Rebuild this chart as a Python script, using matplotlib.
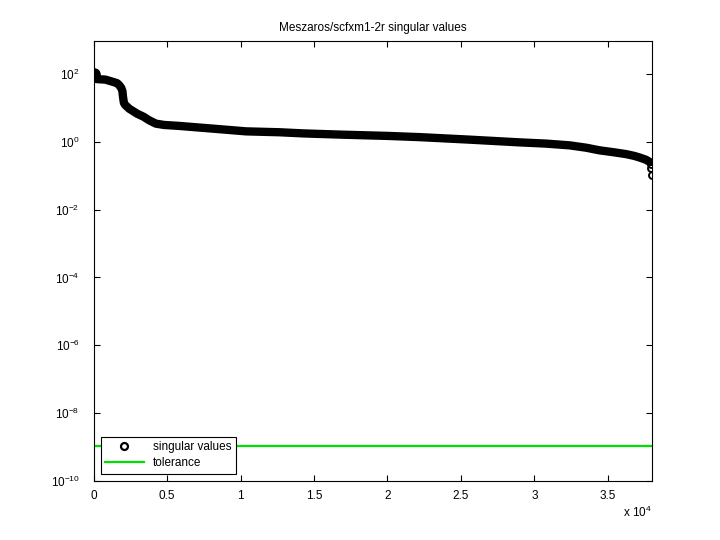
import numpy as np
import matplotlib
matplotlib.use("Agg")
import matplotlib.pyplot as plt

# singular values (index, value)
sv_index = [1, 60, 300, 800, 1260, 1600, 1740, 1880, 1960, 2000, 2060,
            2150, 2420, 2960, 3400, 3780, 4240, 4800, 5820, 8080, 10380,
            12640, 14300, 17000, 20000, 22170, 25580, 28980, 30800, 32390,
            33540, 34430, 35400, 36250, 36800, 37160, 37600, 37840]
sv_value = [103, 74, 72, 70, 61, 55, 48, 40, 32, 22, 14.5,
            12.5, 9.7, 6.9, 5.6, 4.4, 3.5, 3.2, 3.0, 2.5, 2.07,
            1.95, 1.8, 1.65, 1.52, 1.4, 1.18, 0.98, 0.90, 0.80,
            0.68, 0.57, 0.50, 0.44, 0.39, 0.35, 0.30, 0.26]
# last few values that show as separate circles
tail_index = [37930, 37965, 37980]
tail_value = [0.22, 0.17, 0.11]

n_values = 37980
tolerance = 1.05e-9

plt.rcParams['font.family'] = ['Liberation Sans', 'DejaVu Sans']
plt.rcParams['mathtext.fontset'] = 'custom'
plt.rcParams['mathtext.rm'] = 'Liberation Sans'

fig = plt.figure(figsize=(7.2, 5.4), dpi=100)
ax = fig.add_axes([0.13, 0.11, 0.775, 0.815])

# dense markers in the original merge into a thick band
ax.plot(sv_index, sv_value, '-', color='black', lw=6,
        solid_capstyle='round', solid_joinstyle='round')
ax.plot(sv_index[:1], sv_value[:1], 'o', color='black', ms=8)
ax.plot(tail_index, tail_value, 'o', mfc='none', mec='black', ms=5, mew=1.4)
ax.plot([], [], 'o', mfc='none', mec='black', ms=5, mew=1.6,
        label='singular values')
ax.plot([0, n_values], [tolerance, tolerance], color='#00e000', lw=1.6,
        label='tolerance')

ax.set_yscale('log')
ax.set_xlim(0, n_values)
ax.set_ylim(1e-10, 1e3)

yt = [1e-10, 1e-8, 1e-6, 1e-4, 1e-2, 1e0, 1e2]
ax.set_yticks(yt)
ax.set_yticklabels(['$\\mathregular{10^{%d}}$' % int(np.log10(v)) for v in yt])
ax.yaxis.set_minor_locator(matplotlib.ticker.NullLocator())

xt = np.arange(0, 4e4, 5e3)
ax.set_xticks(xt)
ax.set_xticklabels(['0', '0.5', '1', '1.5', '2', '2.5', '3', '3.5'])

ax.tick_params(direction='in', length=4, width=0.8, top=True, right=True,
               labelsize=8.5)
ax.tick_params(axis='y', pad=10)
ax.tick_params(axis='x', pad=7)
for s in ax.spines.values():
    s.set_linewidth(0.8)

fig.text(0.865, 0.043, 'x $\\mathregular{10^{4}}$', fontsize=8.5)
ax.set_title('Meszaros/scfxm1-2r singular values', fontsize=8.5, pad=7)

leg = ax.legend(loc='lower left', fontsize=8.5, fancybox=False,
                edgecolor='black', framealpha=1, handlelength=3.3,
                borderaxespad=0.6, borderpad=0.35, labelspacing=0.35)
leg.get_frame().set_linewidth(0.8)

fig.savefig('out.png', dpi=100)
